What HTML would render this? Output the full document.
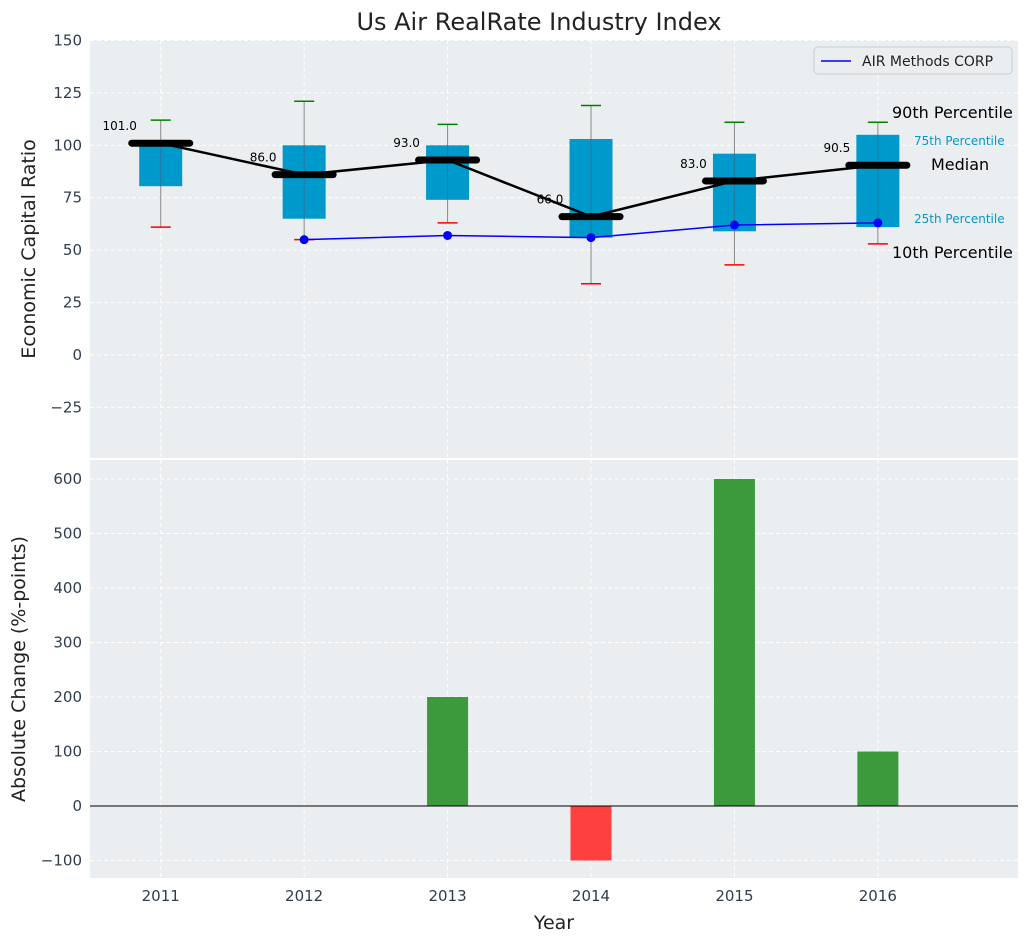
<!DOCTYPE html>
<html><head><meta charset="utf-8"><style>
body{margin:0;background:#fff;font-family:"Liberation Sans","DejaVu Sans",sans-serif}
svg text{font-family:"DejaVu Sans","Liberation Sans",sans-serif}
</style></head><body>
<svg id="chart" width="1029" height="942" xmlns="http://www.w3.org/2000/svg">
<text x="539" y="30" font-size="24" text-anchor="middle" fill="#222">Us Air RealRate Industry Index</text>
<g id="topg"></g><g id="botg"></g>
</svg>
<script>
const years=["2011","2012","2013","2014","2015","2016"];
const p10=[61,55,63,34,43,53];
const p25=[80.5,65,74,56,59,61];
const median=[101,86,93,66,83,90.5];
const p75=[101.5,100,100,103,96,105];
const p90=[112,121,110,119,111,111];
const companyYears=[1,2,3,4,5];
const companyVals=[55,57,56,62,63];
const changeVals=[0,0,200,-100,600,100];
const topTicks=[-25,0,25,50,75,100,125,150];
const botTicks=[-100,0,100,200,300,400,500,600];

const NS="http://www.w3.org/2000/svg";
const L=90,R=1018;
const X=i=>L-1+(i+0.5)*(R-L)/6.47;
const yT=v=>355-v*2.097;
const yB=v=>806-v*0.545;
function el(p,t,a){const e=document.createElementNS(NS,t);for(const k in a)e.setAttribute(k,a[k]);p.appendChild(e);return e;}
const topG=document.getElementById('topg'),botG=document.getElementById('botg');
function axes(g,y0,y1,ticks,yf,name){
 const bg=el(g,'rect',{x:L,y:y0,width:R-L,height:y1-y0,fill:'#eaeef0'});
 
 ticks.forEach(t=>{const y=yf(t);
  const gl=el(g,'line',{x1:L,x2:R,y1:y,y2:y,stroke:'#fff','stroke-dasharray':'4,3','stroke-width':1});
  
  const tx=el(g,'text',{x:L-8,y:y+5,'font-size':15,'text-anchor':'end',fill:'#2e3d50'});tx.textContent=t<0?'\u2212'+(-t):t;
  });
 years.forEach((yr,i)=>{const gl=el(g,'line',{x1:X(i),x2:X(i),y1:y0,y2:y1,stroke:'#fff','stroke-dasharray':'4,3'});
  });
}
axes(topG,40,458,topTicks,yT,'top');
axes(botG,460,878,botTicks,yB,'bottom');
years.forEach((yr,i)=>{const x=X(i);
 const w=el(topG,'line',{x1:x,x2:x,y1:yT(p90[i]),y2:yT(p10[i]),stroke:'#888','stroke-width':1});
 
 const b=el(topG,'rect',{x:x-21.5,y:yT(p75[i]),width:43,height:yT(p25[i])-yT(p75[i]),fill:'#0099cc'});
 
 const ic=el(topG,'line',{x1:x,x2:x,y1:yT(p75[i]),y2:yT(p25[i]),stroke:'#557','stroke-width':1,opacity:0.5});
 
 const g9=el(topG,'line',{x1:x-10,x2:x+10,y1:yT(p90[i]),y2:yT(p90[i]),stroke:'green','stroke-width':1.5});
 
 const r1=el(topG,'line',{x1:x-10,x2:x+10,y1:yT(p10[i]),y2:yT(p10[i]),stroke:'red','stroke-width':1.5});
 
});
const mp=el(topG,'polyline',{points:years.map((y,i)=>X(i)+','+yT(median[i])).join(' '),fill:'none',stroke:'#000','stroke-width':2.5});

years.forEach((yr,i)=>{const x=X(i);
 const m=el(topG,'line',{x1:x-29,x2:x+29,y1:yT(median[i]),y2:yT(median[i]),stroke:'#000','stroke-width':7,'stroke-linecap':'round'});
 
 const t=el(topG,'text',{x:x-41,y:yT(median[i])-13,'font-size':12,'text-anchor':'middle',fill:'#000'});t.textContent=median[i].toFixed(1);
 });
const cl=el(topG,'polyline',{points:companyYears.map((c,k)=>X(c)+','+yT(companyVals[k])).join(' '),fill:'none',stroke:'#0000ff','stroke-width':1.5});

companyYears.forEach((c,k)=>{const d=el(topG,'circle',{cx:X(c),cy:yT(companyVals[k]),r:4.5,fill:'#0000ff'});
 });
const ann=[["90th Percentile",892,118,16,'#000'],["75th Percentile",914,145,12,'#0099cc'],["Median",931,170,16,'#000'],["25th Percentile",914,223,12,'#0099cc'],["10th Percentile",892,258,16,'#000']];
ann.forEach(a=>{const t=el(topG,'text',{x:a[1],y:a[2],'font-size':a[3],fill:a[4]});t.textContent=a[0];
 });
const lg=el(topG,'g',{});
el(lg,'rect',{x:814,y:47,width:198,height:27,rx:4,fill:'#eaeef0',stroke:'#ccc'});
el(lg,'line',{x1:821,x2:851,y1:61,y2:61,stroke:'#0000ff','stroke-width':1.5});
const lt=el(lg,'text',{x:862,y:66,'font-size':14,fill:'#222'});lt.textContent='AIR Methods CORP';
const yl=el(topG,'text',{x:35,y:249,'font-size':19,'text-anchor':'middle',fill:'#222',transform:'rotate(-90 35 249)'});yl.textContent='Economic Capital Ratio';

changeVals.forEach((v,i)=>{if(v===0)return;const y0=yB(Math.max(v,0)),h=Math.abs(yB(v)-yB(0));
 const b=el(botG,'rect',{x:X(i)-20.5,y:y0,width:41,height:h,fill:v>0?'#3c9a3c':'#ff4040'});
 });
const zl=el(botG,'line',{x1:L,x2:R,y1:yB(0),y2:yB(0),stroke:'#000','stroke-width':1});

years.forEach((yr,i)=>{const t=el(botG,'text',{x:X(i),y:901,'font-size':15,'text-anchor':'middle',fill:'#2e3d50'});t.textContent=yr;
 });
const xl=el(botG,'text',{x:554,y:929,'font-size':19,'text-anchor':'middle',fill:'#222'});xl.textContent='Year';

const bl=el(botG,'text',{x:25,y:669,'font-size':19,'text-anchor':'middle',fill:'#222',transform:'rotate(-90 25 669)'});bl.textContent='Absolute Change (%-points)';

</script>
</body></html>
